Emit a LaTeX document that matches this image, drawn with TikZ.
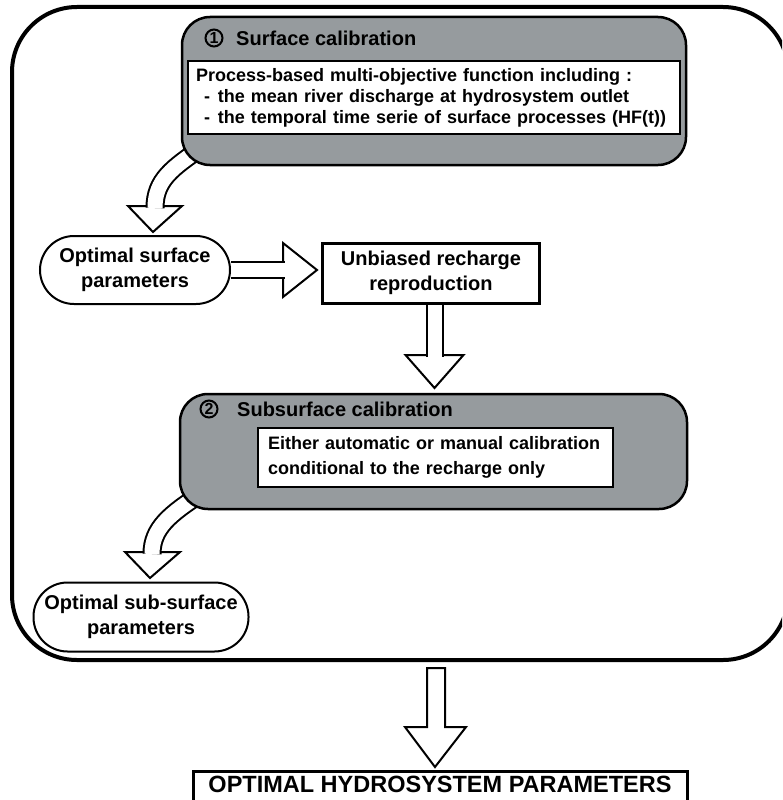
\documentclass[tikz,border=0pt]{standalone}
\usepackage{fontspec}
\setmainfont{Liberation Sans}
\usetikzlibrary{calc,backgrounds}
\definecolor{calgrey}{RGB}{150,155,158}

\begin{document}
\begin{tikzpicture}[x = 1pt, y = -1pt,
    calbox/.style = {draw, fill = calgrey, rounded corners = 28pt, line width = 2.5pt},
    inbox/.style = {draw, fill = white, line width = 2pt, align = left, anchor = north west,
                    font = \fontsize{18}{21}\selectfont\bfseries},
    num/.style = {circle, draw, line width = 2pt, inner sep = 0pt, minimum size = 17pt,
                  font = \fontsize{16}{16}\selectfont\bfseries},
    title/.style = {anchor = west, inner sep = 0pt, font = \fontsize{20}{20}\selectfont\bfseries},
    result/.style = {draw, fill = white, rounded corners = 34pt, line width = 2pt, align = center,
                     font = \fontsize{20}{25}\selectfont\bfseries},
    stepbox/.style = {draw, fill = white, line width = 3pt, align = center,
                      font = \fontsize{20}{25}\selectfont\bfseries},
    shaft/.style = {line width = 2pt, double = white, double distance = 15pt},
    tip/.style = {draw, fill = white, line width = 2pt, line join = miter}]
      \useasboundingbox (0,0) rectangle (782,800);
      \clip (0,0) rectangle (782,800);

      \draw [line width = 4pt, rounded corners = 65pt] (12,7) rectangle (788,660);

      % surface step
      \node [calbox, minimum width = 504pt, minimum height = 148pt] (cal1) at (434,91){};
      \node [num] (n1) at (214,38){1};
      \node [title] (t1) at (236,38){Surface calibration};
      \node [inbox, text width = 476pt, minimum height = 73pt, inner xsep = 8pt] (obj1) at (187,60)
            {Process-based multi-objective function including :\\
             \hspace*{8pt}-\hspace{8pt}the mean river discharge at hydrosystem outlet\\
             \hspace*{8pt}-\hspace{8pt}the temporal time serie of surface processes (HF(t))};

      \node [result, minimum width = 190pt, minimum height = 68pt] (opt1) at (135,270)
            {Optimal surface\\parameters};
      \node [stepbox, minimum width = 217pt, minimum height = 60pt] (unb) at (431,273)
            {Unbiased recharge\\reproduction};

      % subsurface step
      \node [calbox, minimum width = 507pt, minimum height = 115pt] (cal2) at (433.5,451.5){};
      \node [num] (n2) at (209,409){2};
      \node [title] (t2) at (237,409){Subsurface calibration};
      \node [inbox, text width = 335pt, minimum height = 59pt, inner xsep = 10pt,
             font = \fontsize{18}{25}\selectfont\bfseries] (obj2) at (257,427)
            {Either automatic or manual calibration\\conditional to the recharge only};

      \node [result, minimum width = 215pt, minimum height = 69pt] (opt2) at (141,617)
            {Optimal sub-surface\\parameters};

      \node [stepbox, anchor = north, minimum width = 494pt, inner ysep = 5pt, text depth = 12pt,
             font = \fontsize{23.5}{28}\selectfont\bfseries] (fin) at (440,770)
            {OPTIMAL HYDROSYSTEM PARAMETERS};

      \begin{scope}[on background layer]
        \coordinate (h1) at (155,206);
        \draw [tip] ($(h1)+(-27,0)$) -- ($(h1)+(-2,26)$) -- ($(h1)+(27,0)$) -- cycle;
        \draw [shaft] ($(cal1.south west)+(23,-20)$) .. controls (172,168) and (155,180) .. ($(h1)+(0,2)$);

        \coordinate (h2) at (283,270);
        \draw [tip] ($(h2)+(0,-27)$) -- ($(h2)+(34,0)$) -- ($(h2)+(0,27)$) -- cycle;
        \draw [shaft, double distance = 14pt] (opt1) -- ($(h2)+(2,0)$);

        \coordinate (h3) at (434.5,355);
        \draw [tip] ($(h3)+(-29,0)$) -- ($(h3)+(0,33)$) -- ($(h3)+(29,0)$) -- cycle;
        \draw [shaft, double distance = 14pt] (h3 |- unb) -- ($(h3)+(0,2)$);

        \coordinate (h4) at (152,552);
        \draw [tip] ($(h4)+(-27,0)$) -- ($(h4)+(-2,26)$) -- ($(h4)+(28,0)$) -- cycle;
        \draw [shaft] ($(cal2.south west)+(23,-17)$) .. controls (170,514) and (152,528) .. ($(h4)+(0,2)$);
      \end{scope}

      \coordinate (h5) at (436,727);
      \draw [tip] ($(h5)+(-9,-59)$) -- ($(h5)+(9,-59)$) -- ($(h5)+(9,0)$) -- ($(h5)+(30,0)$)
            -- ($(h5)+(-1,40)$) -- ($(h5)+(-31,0)$) -- ($(h5)+(-9,0)$) -- cycle;
      \end{tikzpicture}
\end{document}
